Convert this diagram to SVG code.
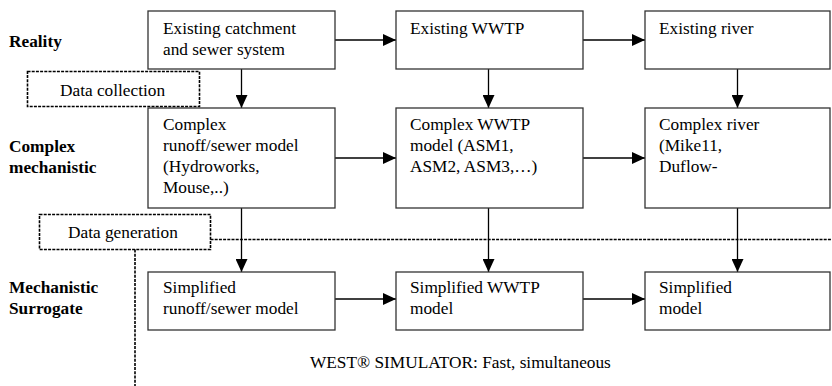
<svg xmlns="http://www.w3.org/2000/svg" width="832" height="386" viewBox="0 0 832 386">
<style>
.box{fill:#fff;stroke:#333;stroke-width:1.3}
.t{font-family:"Liberation Serif","Times New Roman",serif;font-size:17.3px;fill:#000}
.b{font-weight:bold}
.c{stroke:#000;stroke-width:1.3;fill:none}
.dot{stroke:#000;stroke-width:1.6;fill:none;stroke-dasharray:3 1.2}
</style>
<defs>
<marker id="ah" markerUnits="userSpaceOnUse" markerWidth="14" markerHeight="12" refX="13" refY="6" orient="auto">
<path d="M0,0 L13,6 L0,12 z" fill="#000"/>
</marker>
</defs>
<rect width="832" height="386" fill="#fff"/>
<g id="labels">
<text class="t b" x="9" y="47">Reality</text>
<text class="t b" x="9" y="152">Complex</text>
<text class="t b" x="9" y="173">mechanistic</text>
<text class="t b" x="9" y="293">Mechanistic</text>
<text class="t b" x="9" y="314">Surrogate</text>
<text class="t" x="310" y="368">WEST® SIMULATOR: Fast, simultaneous</text>
</g>
<g id="connectors">
<line class="c" x1="335" y1="40" x2="396" y2="40" marker-end="url(#ah)"/>
<line class="c" x1="583" y1="40" x2="645" y2="40" marker-end="url(#ah)"/>
<line class="c" x1="335" y1="158" x2="396" y2="158" marker-end="url(#ah)"/>
<line class="c" x1="583" y1="158" x2="645" y2="158" marker-end="url(#ah)"/>
<line class="c" x1="335" y1="299" x2="396" y2="299" marker-end="url(#ah)"/>
<line class="c" x1="583" y1="299" x2="645" y2="299" marker-end="url(#ah)"/>
<line class="c" x1="241.5" y1="69" x2="241.5" y2="108" marker-end="url(#ah)"/>
<line class="c" x1="488.5" y1="69" x2="488.5" y2="108" marker-end="url(#ah)"/>
<line class="c" x1="737.5" y1="69" x2="737.5" y2="108" marker-end="url(#ah)"/>
<line class="c" x1="241.5" y1="208" x2="241.5" y2="272" marker-end="url(#ah)"/>
<line class="c" x1="488.5" y1="208" x2="488.5" y2="272" marker-end="url(#ah)"/>
<line class="c" x1="737.5" y1="208" x2="737.5" y2="272" marker-end="url(#ah)"/>
<line class="dot" x1="210.5" y1="239.5" x2="832" y2="239.5"/>
<line class="dot" x1="135" y1="249.5" x2="135" y2="386"/>
</g>
<g id="data-collection">
<rect class="dot" x="27.5" y="71.5" width="172" height="35"/>
<text class="t" x="60" y="96">Data collection</text>
</g>
<g id="data-generation">
<rect class="dot" x="39.5" y="214.5" width="171" height="35"/>
<text class="t" x="68" y="238">Data generation</text>
</g>
<g id="existing-catchment">
<rect class="box" x="148" y="11" width="187" height="58"/>
<text class="t" x="163" y="34">Existing catchment</text>
<text class="t" x="163" y="55">and sewer system</text>
</g>
<g id="existing-wwtp">
<rect class="box" x="396" y="11" width="187" height="58"/>
<text class="t" x="410" y="34">Existing WWTP</text>
</g>
<g id="existing-river">
<rect class="box" x="645" y="11" width="185" height="58"/>
<text class="t" x="659" y="34">Existing river</text>
</g>
<g id="complex-sewer">
<rect class="box" x="148" y="108" width="187" height="100"/>
<text class="t" x="163" y="130">Complex</text>
<text class="t" x="163" y="151">runoff/sewer model</text>
<text class="t" x="163" y="172">(Hydroworks,</text>
<text class="t" x="163" y="193">Mouse,..)</text>
</g>
<g id="complex-wwtp">
<rect class="box" x="396" y="108" width="187" height="100"/>
<text class="t" x="410" y="130">Complex WWTP</text>
<text class="t" x="410" y="151">model (ASM1,</text>
<text class="t" x="410" y="172">ASM2, ASM3,…)</text>
</g>
<g id="complex-river">
<rect class="box" x="645" y="108" width="185" height="100"/>
<text class="t" x="659" y="130">Complex river</text>
<text class="t" x="659" y="151">(Mike11,</text>
<text class="t" x="659" y="172">Duflow-</text>
</g>
<g id="simplified-sewer">
<rect class="box" x="148" y="272" width="187" height="58"/>
<text class="t" x="163" y="293">Simplified</text>
<text class="t" x="163" y="314">runoff/sewer model</text>
</g>
<g id="simplified-wwtp">
<rect class="box" x="396" y="272" width="187" height="58"/>
<text class="t" x="410" y="293">Simplified WWTP</text>
<text class="t" x="410" y="314">model</text>
</g>
<g id="simplified-river">
<rect class="box" x="645" y="272" width="185" height="58"/>
<text class="t" x="659" y="293">Simplified</text>
<text class="t" x="659" y="314">model</text>
</g>
</svg>
